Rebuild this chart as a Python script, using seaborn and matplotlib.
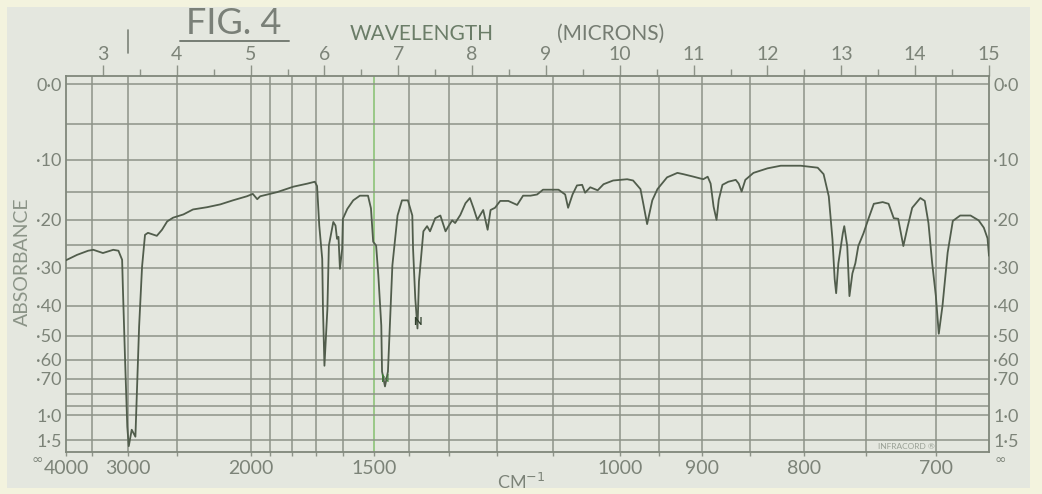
import numpy as np
import matplotlib
matplotlib.use("Agg")
import matplotlib.pyplot as plt
import matplotlib.transforms as mtransforms
from matplotlib.patches import Rectangle
from matplotlib.lines import Line2D
import seaborn as sns

# ---- spectrum (wavelength in microns, absorbance) ----
wavelength_um = [
    2.50, 2.65, 2.80, 2.87, 3.00, 3.14, 3.21, 3.26, 3.27, 3.30,
    3.33, 3.35, 3.39, 3.44, 3.46, 3.49, 3.53, 3.57, 3.61, 3.73,
    3.80, 3.87, 3.95, 4.09, 4.22, 4.41, 4.59, 4.76, 4.95, 5.03,
    5.09, 5.13, 5.36, 5.58, 5.77, 5.87, 5.90, 5.93, 5.97, 5.98,
    6.00, 6.04, 6.06, 6.12, 6.15, 6.17, 6.19, 6.21, 6.24, 6.25,
    6.31, 6.39, 6.48, 6.59, 6.63, 6.66, 6.70, 6.73, 6.77, 6.78,
    6.82, 6.86, 6.92, 6.99, 7.05, 7.13, 7.19, 7.20, 7.23, 7.26,
    7.28, 7.34, 7.39, 7.43, 7.50, 7.57, 7.64, 7.68, 7.73, 7.77,
    7.84, 7.91, 7.97, 8.02, 8.07, 8.11, 8.15, 8.21, 8.25, 8.31,
    8.38, 8.49, 8.61, 8.69, 8.79, 8.88, 8.96, 9.17, 9.26, 9.30,
    9.36, 9.42, 9.49, 9.53, 9.60, 9.70, 9.78, 9.91, 10.10, 10.18,
    10.28, 10.32, 10.37, 10.44, 10.51, 10.64, 10.78, 10.86, 11.00, 11.13,
    11.19, 11.23, 11.27, 11.31, 11.34, 11.39, 11.47, 11.57, 11.61, 11.65,
    11.70, 11.81, 12.00, 12.18, 12.45, 12.68, 12.76, 12.83, 12.88, 12.91,
    12.93, 12.96, 13.02, 13.04, 13.08, 13.11, 13.15, 13.19, 13.23, 13.30,
    13.37, 13.44, 13.56, 13.64, 13.71, 13.77, 13.84, 13.90, 13.96, 14.07,
    14.13, 14.18, 14.23, 14.28, 14.32, 14.37, 14.44, 14.51, 14.61, 14.75,
    14.86, 14.93, 14.98, 15.00,
]
absorbance = [
    0.283, 0.271, 0.262, 0.260, 0.267, 0.260, 0.262, 0.282, 0.348, 0.601,
    1.162, 1.800, 1.218, 1.381, 0.793, 0.468, 0.298, 0.229, 0.225, 0.231,
    0.219, 0.203, 0.196, 0.190, 0.181, 0.177, 0.172, 0.165, 0.158, 0.154,
    0.163, 0.158, 0.151, 0.142, 0.137, 0.134, 0.141, 0.211, 0.280, 0.410,
    0.630, 0.410, 0.251, 0.204, 0.211, 0.237, 0.233, 0.303, 0.258, 0.198,
    0.180, 0.165, 0.157, 0.157, 0.179, 0.243, 0.251, 0.319, 0.464, 0.660,
    0.749, 0.660, 0.295, 0.192, 0.165, 0.165, 0.192, 0.257, 0.379, 0.474,
    0.334, 0.222, 0.212, 0.222, 0.197, 0.192, 0.222, 0.212, 0.201, 0.206,
    0.191, 0.170, 0.161, 0.179, 0.200, 0.191, 0.182, 0.219, 0.182, 0.178,
    0.166, 0.166, 0.173, 0.157, 0.157, 0.155, 0.147, 0.147, 0.155, 0.178,
    0.155, 0.140, 0.139, 0.152, 0.143, 0.148, 0.138, 0.132, 0.130, 0.132,
    0.146, 0.172, 0.208, 0.165, 0.146, 0.127, 0.120, 0.122, 0.126, 0.130,
    0.126, 0.137, 0.176, 0.200, 0.164, 0.139, 0.134, 0.131, 0.137, 0.150,
    0.131, 0.120, 0.113, 0.109, 0.109, 0.112, 0.122, 0.158, 0.238, 0.328,
    0.365, 0.290, 0.226, 0.212, 0.252, 0.373, 0.314, 0.290, 0.252, 0.226,
    0.197, 0.171, 0.168, 0.171, 0.197, 0.198, 0.252, 0.212, 0.178, 0.161,
    0.166, 0.206, 0.289, 0.372, 0.493, 0.401, 0.266, 0.202, 0.192, 0.192,
    0.201, 0.215, 0.236, 0.273,
]

# ---- chart-paper rulings ----
micron_ticks = list(range(3, 16))
micron_half_ticks = [3.5, 4.5, 5.5, 6.5, 7.5, 8.5, 9.5, 10.5, 11.5, 12.5, 13.5, 14.5]
wavenumber_labels = [4000, 3000, 2000, 1500, 1000, 900, 800, 700]
wavenumber_rulings = [3500, 3000, 2500, 2000, 1900, 1800, 1700, 1600, 1500, 1400,
                      1300, 1200, 1100, 1000, 950, 900, 850, 800, 750, 700]
absorbance_rulings = [0.0, 0.05, 0.10, 0.15, 0.20, 0.25, 0.30, 0.40, 0.50,
                      0.60, 0.70, 0.80, 0.90, 1.0, 1.5]
absorbance_ticks = [0.0, 0.1, 0.2, 0.3, 0.4, 0.5, 0.6, 0.7, 1.0, 1.5]
absorbance_tick_labels = ["0·0", "·10", "·20", "·30", "·40", "·50", "·60", "·70", "1·0", "1·5"]

PAPER = "#e4e7df"
CREAM = "#f3f3de"
RULE = "#8d9388"
INK = "#7c8378"
TRACE = "#515d4c"

sns.set_style("white")
plt.rcParams["font.family"] = ["Lato", "DejaVu Sans"]

W, H = 1042, 494
fig = plt.figure(figsize=(W / 100, H / 100), dpi=100, facecolor=PAPER)


def fx(px):
    return px / W


def fy(py):
    return 1 - py / H


ax = fig.add_axes([fx(66), fy(452), fx(989) - fx(66), fy(76) - fy(452)])
ax.set_facecolor(PAPER)


# transmittance-linear absorbance scale (0 at top, infinity at bottom)
def to_trans(a):
    a = np.asarray(a, dtype=float)
    return 1.0 - np.power(10.0, -a)


def from_trans(u):
    u = np.asarray(u, dtype=float)
    return -np.log10(np.clip(1.0 - u, 1e-12, None))


for wn in wavenumber_rulings:
    col = "#86c06f" if wn == 1500 else RULE
    ax.axvline(1e4 / wn, color=col, lw=1.1, zorder=1)
for a in absorbance_rulings:
    ax.axhline(a, color=RULE, lw=1.1, zorder=1)

sns.lineplot(x=wavelength_um, y=absorbance, ax=ax, color=TRACE, lw=1.3,
             estimator=None, sort=False, zorder=3)

ax.set_yscale("function", functions=(to_trans, from_trans))
ax.set_xlim(2.5, 15.0)
ax.set_ylim(6.0, -0.0094)

# absorbance labels on both sides
ax.set_yticks(absorbance_ticks)
ax.set_yticklabels(absorbance_tick_labels)
ax.yaxis.set_minor_locator(matplotlib.ticker.NullLocator())
ax.tick_params(axis="y", which="both", left=True, right=True, labelleft=True,
               labelright=True, length=0, pad=3, labelsize=13, labelcolor=INK)
for lbl in ax.get_yticklabels(which="both"):
    if lbl.get_text() == "1·5":
        lbl.set_verticalalignment("center_baseline")
ax.text(-0.025, -0.003, r"$\infty$", transform=ax.transAxes, ha="right", va="top",
        fontsize=10, color=INK)
ax.text(1.005, -0.003, r"$\infty$", transform=ax.transAxes, ha="left", va="top",
        fontsize=10, color=INK)

# wavenumber scale along the bottom
ax.set_xticks([1e4 / w for w in wavenumber_labels])
ax.set_xticklabels([str(w) for w in wavenumber_labels])
ax.set_xticks([1e4 / w for w in wavenumber_rulings], minor=True)
ax.tick_params(axis="x", which="both", bottom=True, top=False, direction="out",
               length=3, width=1, color=RULE, labelsize=14, labelcolor=INK, pad=3)
ax.set_xlabel("")
ax.set_ylabel("")

# wavelength scale along the top
top = ax.secondary_xaxis("top")
top.set_xticks(micron_ticks)
top.set_xticklabels([str(m) for m in micron_ticks])
top.set_xticks(micron_half_ticks, minor=True)
top.tick_params(axis="x", which="major", direction="out", length=8, width=1,
                color=RULE, labelsize=14, labelcolor=INK, pad=1)
top.tick_params(axis="x", which="minor", direction="out", length=5, width=1, color=RULE)
top.spines["top"].set_visible(False)

for sp in ax.spines.values():
    sp.set_color("#80877b")
    sp.set_linewidth(1.3)

# pen notes
ax.text(6.82, 0.70, "N", color="#3d7d36", fontsize=8, ha="center", va="center", zorder=4)
ax.text(7.26, 0.45, "N", color="#2f3f2c", fontsize=8, fontweight="bold",
        ha="center", va="center", zorder=4)
blend = mtransforms.blended_transform_factory(ax.transData, ax.transAxes)
ax.add_line(Line2D([1e4 / 3000, 1e4 / 3000], [1.061, 1.122], transform=blend,
                   color=INK, lw=1.2, clip_on=False))

# headings
fig.text(fx(234), fy(23), "FIG. 4", fontsize=26, color="#7a8078",
         ha="center", va="center")
fig.add_artist(Line2D([fx(180), fx(289)], [fy(41), fy(41)], color="#767d74", lw=1.4))
fig.text(fx(422), fy(34), "WAVELENGTH", fontsize=15, color="#6b7d68", ha="center", va="center")
fig.text(fx(611), fy(34), "(MICRONS)", fontsize=15, color="#757c72", ha="center", va="center")
fig.text(fx(22), fy(262), "ABSORBANCE", fontsize=14, color="#8b9487", rotation=90,
         ha="center", va="center")
fig.text(fx(521), fy(472), "CM$^{-1}$", fontsize=13, color=INK, ha="center", va="top", zorder=5)
fig.text(fx(906), fy(446), "INFRACORD ®", fontsize=6, color="#99a095", ha="center",
         va="center", zorder=5)

# cream margin around the chart card
for (x0, y0, w, h) in [(0, 0, W, 7), (0, 488, W, 6), (0, 0, 7, H), (1030, 0, 12, H)]:
    fig.add_artist(Rectangle((fx(x0), fy(y0 + h)), w / W, h / H, transform=fig.transFigure,
                             facecolor=CREAM, edgecolor="none", zorder=20))

fig.savefig("out.png", dpi=100, facecolor=PAPER)
